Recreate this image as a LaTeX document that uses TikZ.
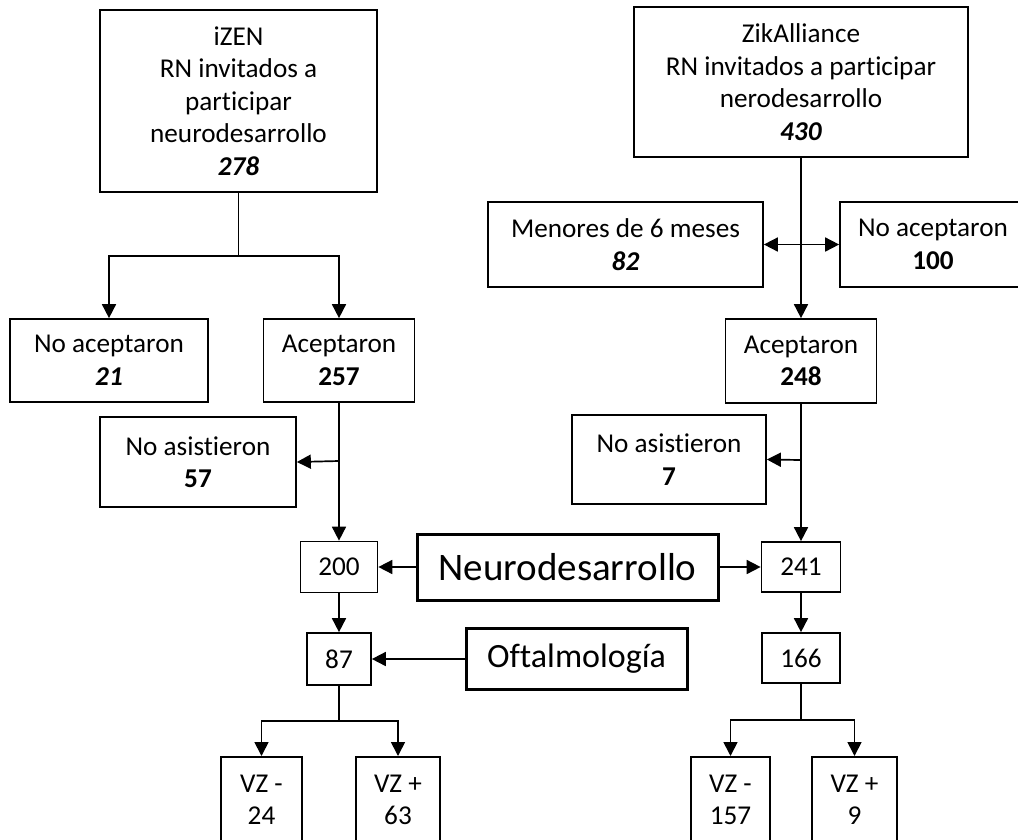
\documentclass[tikz,border=0pt]{standalone}
\usepackage{fontspec}
\usepackage{tikz}
\usetikzlibrary{arrows.meta}
\setmainfont{Carlito}[Ligatures = NoCommon]

\tikzset{
    box/.style = {draw, line width = 1.7pt, align = center, inner sep = 0pt,
        font = \fontsize{27.2}{32.5}\selectfont},
    bigbox/.style = {draw, line width = 3pt, align = center, inner sep = 0pt},
    arr/.style = {line width = 1.7pt, -{Triangle[length = 14pt, width = 14pt]}},
    arrs/.style = {line width = 1.7pt, {Triangle[length = 14pt, width = 14pt]}-{Triangle[length = 14pt, width = 14pt]}}
}

\begin{document}
\begin{tikzpicture}[x = 1pt, y = -1pt]
        \useasboundingbox (0,0) rectangle (1018,839);
        \node[box, minimum width = 277pt, minimum height = 182pt] (izen) at (238.5,101)
            {iZEN\\RN invitados a\\participar\\neurodesarrollo\\\textbf{\textit{278}}};
        \node[box, minimum width = 198pt, minimum height = 83pt] (noacL) at (109,360.5) {No aceptaron\\\textbf{\textit{21}}};
        \node[box, minimum width = 151pt, minimum height = 83pt] (acL) at (339,360.5) {Aceptaron\\\textbf{257}};
        \node[box, minimum width = 196pt, minimum height = 90pt] (noasL) at (198,462) {No asistieron\\\textbf{57}};
        \node[box, minimum width = 77pt, minimum height = 51pt] (n200) at (339,567) {200};
        \node[box, minimum width = 64pt, minimum height = 52pt] (n87) at (339,659) {87};
        \node[box, minimum width = 81pt, minimum height = 86pt, anchor = north] (vzmL) at (261.5,756) {VZ -\\24};
        \node[box, minimum width = 84pt, minimum height = 86pt, anchor = north] (vzpL) at (398,756) {VZ +\\63};

        \node[box, minimum width = 334pt, minimum height = 150pt] (zik) at (801,82)
            {ZikAlliance\\RN invitados a participar\\nerodesarrollo\\\textbf{\textit{430}}};
        \node[box, minimum width = 275pt, minimum height = 85pt] (menores) at (625.5,244.5) {Menores de 6 meses\\\textbf{\textit{82}}};
        \node[box, minimum width = 186pt, minimum height = 85pt] (noacR) at (933,244.5) {No aceptaron\\\textbf{100}};
        \node[box, minimum width = 151pt, minimum height = 84pt] (acR) at (801,361) {Aceptaron\\\textbf{248}};
        \node[box, minimum width = 194pt, minimum height = 89pt] (noasR) at (669,459.5) {No asistieron\\\textbf{7}};
        \node[box, minimum width = 79pt, minimum height = 50pt] (n241) at (801,567) {241};
        \node[box, minimum width = 78pt, minimum height = 50pt] (n166) at (801,658) {166};
        \node[box, minimum width = 79pt, minimum height = 86pt, anchor = north] (vzmR) at (730.5,756) {VZ -\\157};
        \node[box, minimum width = 85pt, minimum height = 86pt, anchor = north] (vzpR) at (854.5,756) {VZ +\\9};

        \node[bigbox, minimum width = 301pt, minimum height = 66pt, font = \fontsize{39}{47}\selectfont] (neuro) at (567.5,567) {Neurodesarrollo};
        \node[bigbox, minimum width = 221pt, minimum height = 61pt, font = \fontsize{34}{41}\selectfont] (oft) at (576.5,659) {Oftalmología};

        \coordinate (jL) at (238.5,256);
        \coordinate (kL) at (339,461);
        \coordinate (mL) at (339,721);
        \coordinate (kR) at (801,460);
        \coordinate (mR) at (801,720);

        \draw[line width = 1.7pt] (izen.south) -- (jL);
        \draw[arr] (jL) -| (noacL.north);
        \draw[arr] (jL) -| (acL.north);
        \draw[arr] (acL.south) -- (n200.north);
        \draw[arr] (kL) -- (noasL.east);
        \draw[arr] (n200.south) -- (n87.north);
        \draw[line width = 1.7pt] (n87.south) -- (mL);
        \draw[arr] (mL) -| (vzmL.north);
        \draw[arr] (mL) -| (vzpL.north);

        \draw[arr] (zik.south) -- (acR.north);
        \draw[arrs] (menores.east) -- (noacR.west);
        \draw[arr] (acR.south) -- (n241.north);
        \draw[arr] (kR) -- (noasR.east);
        \draw[arr] (n241.south) -- (n166.north);
        \draw[line width = 1.7pt] (n166.south) -- (mR);
        \draw[arr] (mR) -| (vzmR.north);
        \draw[arr] (mR) -| (vzpR.north);

        \draw[arr] (neuro.west) -- (n200.east);
        \draw[arr] (neuro.east) -- (n241.west);
        \draw[arr] (oft.west) -- (n87.east);
    \end{tikzpicture}
\end{document}
